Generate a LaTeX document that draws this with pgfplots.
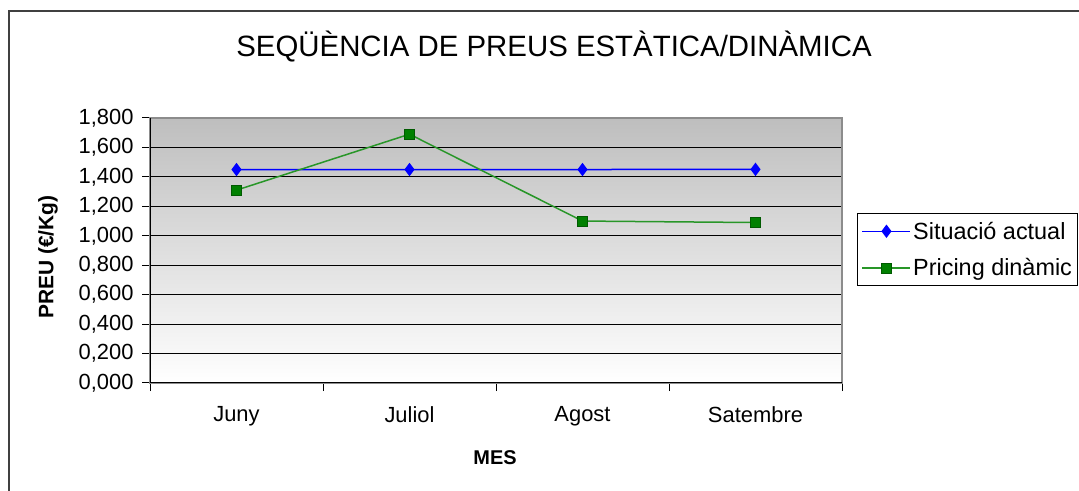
\documentclass[border=0pt]{standalone}
\usepackage{fontspec}
\setmainfont{Liberation Sans}
\usepackage{pgfplots}
\pgfplotsset{compat=1.18}
\definecolor{serblue}{RGB}{0,0,255}
\definecolor{sergreen}{RGB}{0,128,0}
\definecolor{linegreen}{RGB}{40,150,40}
\definecolor{topgray}{RGB}{190,190,190}
\begin{document}
\begin{tikzpicture}
\path[use as bounding box] (0bp,0bp) rectangle (1079bp,491bp);
\draw[line width=2bp, black!75] (9bp,-2bp) -- (9bp,480bp) -- (1081bp,480bp);
\node[anchor=base, font=\fontsize{29.5}{34}\selectfont] at (554bp,434bp) {SEQÜÈNCIA DE PREUS ESTÀTICA/DINÀMICA};
\node[rotate=90, font=\fontsize{21}{24}\selectfont\bfseries] at (48bp,234bp) {PREU (€/Kg)};
\node[font=\fontsize{20}{24}\selectfont\bfseries] at (495bp,33bp) {MES};
\begin{axis}[
  at={(150bp,108bp)}, anchor=south west,
  width=692bp, height=265bp, scale only axis,
  xmin=-0.5, xmax=3.5, ymin=0, ymax=1.8,
  axis background/.style={shade, top color=topgray, bottom color=white},
  axis line style={black!45, line width=1.2bp},
  xtick={-0.5,0.5,1.5,2.5,3.5}, xticklabels={},
  extra x ticks={0,1,2,3}, extra x tick labels={Juny,Juliol,Agost,Satembre},
  extra x tick style={major tick length=0pt},
  xticklabel style={yshift=-20bp},
  ytick={0,0.2,...,1.8},
  tick align=outside, tick pos=left,
  tick style={black, line width=1bp}, major tick length=8bp,
  ymajorgrids, major grid style={black, line width=1.2bp},
  y tick label style={xshift=-5bp, /pgf/number format/fixed, /pgf/number format/fixed zerofill, /pgf/number format/precision=3, /pgf/number format/use comma, /pgf/number format/1000 sep={}, /pgf/number format/assume math mode=true},
  ticklabel style={font=\fontsize{22}{25}\selectfont},
  legend style={at={(rel axis cs:1.022,0.64)}, anchor=north west, draw=black, line width=1bp,
    font=\fontsize{23.5}{27}\selectfont, row sep=14bp, inner xsep=4bp, inner ysep=6bp,
    /tikz/every even column/.append style={column sep=2bp}},
  legend cell align=left,
  legend image code/.code={\draw[#1, mark repeat=2, mark phase=2] plot coordinates {(0bp,0bp) (24bp,0bp) (48bp,0bp)};},
]
\addplot[serblue, line width=1.5bp, sharp plot, mark=diamond*, mark size=5.5bp, mark options={fill=serblue, draw=serblue}]
  coordinates {(0,1.45) (1,1.45) (2,1.45) (3,1.451)};
\addlegendentry{Situació actual}
\addplot[linegreen, line width=1.5bp, mark=square*, mark size=5bp, mark options={fill=sergreen, draw=sergreen!70!black, line width=0.8bp}]
  coordinates {(0,1.31) (1,1.69) (2,1.10) (3,1.09)};
\addlegendentry{Pricing dinàmic}
\draw[black, line width=1.2bp] (rel axis cs:0,1) -- (rel axis cs:0,0) -- (rel axis cs:1,0);
\end{axis}
\end{tikzpicture}
\end{document}
